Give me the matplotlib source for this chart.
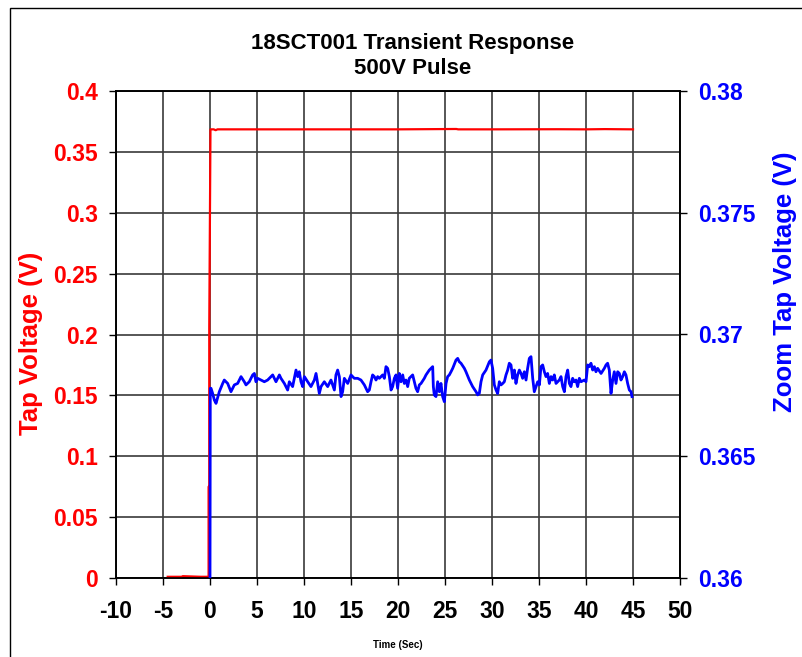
"""
18SCT001 - risposta al transitorio, impulso 500V.
Traccia tensione di tap (rossa, asse sinistro) e zoom (blu, asse destro).
"""

import matplotlib
matplotlib.use("Agg")
import matplotlib.pyplot as plt
from matplotlib.patches import Rectangle
from matplotlib.ticker import FuncFormatter

plt.rcParams["font.family"] = ["Liberation Sans", "DejaVu Sans"]
plt.rcParams["font.weight"] = "bold"
plt.rcParams["axes.unicode_minus"] = False

# tensione tap (V) - scala intera
red_t = [-4.5, -3.0, -2.9, -1.0, -0.15, -0.15, -0.08, -0.08, 0.05, 0.4, 0.6, 0.8,
         10.0, 20.0, 26.2, 26.4, 30.0, 37.0, 40.0, 42.0, 45.0]
red_v = [0.0010, 0.0010, 0.0015, 0.0010, 0.0010, 0.0750, 0.0750, 0.2050, 0.3685, 0.3685,
         0.3678, 0.3685, 0.3685, 0.3685, 0.3688, 0.3685, 0.3685, 0.3686, 0.3685, 0.3687, 0.3685]

# tensione tap (V) - zoom
blue_t = [
    0.00, 0.03, 0.11, 0.28, 0.46, 0.64, 0.99, 1.35, 1.52, 1.88, 2.23, 2.41, 2.59, 2.94,
    3.30, 3.65, 3.83, 4.18, 4.54, 4.72, 4.89, 5.07, 5.43, 5.78, 6.13, 6.49, 6.67, 7.02,
    7.38, 7.55, 7.91, 8.26, 8.44, 8.79, 9.15, 9.33, 9.50, 9.68, 9.86, 10.04, 10.39, 10.74,
    11.10, 11.28, 11.63, 11.81, 12.16, 12.52, 12.87, 13.23, 13.40, 13.58, 13.76, 13.94,
    14.11, 14.29, 14.65, 15.00,
    15.18, 15.35, 15.71, 16.06, 16.42, 16.60, 16.77, 16.95, 17.13, 17.30, 17.48, 17.66,
    17.84, 18.01, 18.19, 18.37, 18.55, 18.72, 18.90, 19.08, 19.26, 19.43, 19.61, 19.79,
    19.96, 20.14, 20.32, 20.50, 20.67, 20.85, 21.03, 21.20, 21.56, 21.74, 21.91, 22.09,
    22.27, 22.45, 22.80, 22.98, 23.33, 23.51, 23.69, 23.76, 23.86, 24.04, 24.22, 24.40,
    24.57, 24.75, 24.93, 25.11, 25.28, 25.46, 25.64, 25.82, 26.17, 26.35, 26.52, 26.70,
    27.06, 27.23, 27.59, 27.77, 27.94, 28.30, 28.48, 28.65, 28.83, 29.01, 29.36, 29.72,
    29.89, 30.07,
    30.25, 30.43, 30.60, 30.78, 30.96, 31.14, 31.31, 31.49, 31.67, 31.84, 32.02, 32.20,
    32.38, 32.55, 32.73, 32.91, 33.09, 33.26, 33.44, 33.62, 33.79, 33.97, 34.15, 34.33,
    34.50, 34.68, 34.86, 35.04, 35.21, 35.39, 35.57, 35.74, 35.92, 36.10, 36.28, 36.45,
    36.63, 36.81, 36.99, 37.16, 37.34, 37.52, 37.70, 37.87, 38.05, 38.23, 38.40, 38.58,
    38.76, 38.94, 39.11, 39.29, 39.47, 39.82, 40.00, 40.18, 40.35, 40.53, 40.71, 40.89,
    41.06, 41.24, 41.60, 41.95, 42.13, 42.30, 42.48, 42.66, 42.84, 43.01, 43.19, 43.37,
    43.55, 43.72, 43.90, 44.08, 44.25, 44.43, 44.61, 44.79, 44.89,
]
blue_v = [
    0.35980, 0.36779, 0.36779, 0.36758, 0.36731, 0.36717, 0.36765, 0.36799, 0.36813,
    0.36799, 0.36765, 0.36779, 0.36793, 0.36799, 0.36827, 0.36806, 0.36793, 0.36806,
    0.36834, 0.36840, 0.36806, 0.36820, 0.36813, 0.36806, 0.36813, 0.36827, 0.36834,
    0.36806, 0.36834, 0.36820, 0.36799, 0.36772, 0.36806, 0.36786, 0.36854, 0.36827,
    0.36847, 0.36806, 0.36786, 0.36827, 0.36806, 0.36786, 0.36813, 0.36840, 0.36758,
    0.36786, 0.36806, 0.36786, 0.36813, 0.36772, 0.36834, 0.36854, 0.36827, 0.36745,
    0.36765, 0.36820, 0.36799, 0.36834,
    0.36827, 0.36820, 0.36820, 0.36813, 0.36793, 0.36779, 0.36765, 0.36772, 0.36806,
    0.36834, 0.36827, 0.36813, 0.36827, 0.36820, 0.36827, 0.36834, 0.36820, 0.36868,
    0.36861, 0.36827, 0.36772, 0.36786, 0.36820, 0.36834, 0.36779, 0.36840, 0.36806,
    0.36834, 0.36799, 0.36813, 0.36786, 0.36820, 0.36834, 0.36806, 0.36779, 0.36765,
    0.36793, 0.36799, 0.36820, 0.36834, 0.36854, 0.36861, 0.36868, 0.36786, 0.36752,
    0.36745, 0.36806, 0.36765, 0.36799, 0.36745, 0.36724, 0.36799, 0.36827, 0.36834,
    0.36847, 0.36861, 0.36895, 0.36902, 0.36888, 0.36882, 0.36861, 0.36847, 0.36813,
    0.36799, 0.36786, 0.36765, 0.36752, 0.36758, 0.36806, 0.36834, 0.36854, 0.36888,
    0.36895, 0.36861,
    0.36793, 0.36772, 0.36758, 0.36806, 0.36793, 0.36799, 0.36806, 0.36834, 0.36854,
    0.36882, 0.36875, 0.36820, 0.36854, 0.36799, 0.36834, 0.36854, 0.36840, 0.36820,
    0.36847, 0.36813, 0.36861, 0.36902, 0.36909, 0.36820, 0.36765, 0.36786, 0.36806,
    0.36793, 0.36868, 0.36875, 0.36847, 0.36827, 0.36840, 0.36799, 0.36827, 0.36813,
    0.36834, 0.36799, 0.36806, 0.36813, 0.36827, 0.36786, 0.36765, 0.36827, 0.36854,
    0.36799, 0.36786, 0.36820, 0.36806, 0.36813, 0.36786, 0.36820, 0.36806, 0.36813,
    0.36806, 0.36875, 0.36868, 0.36882, 0.36854, 0.36868, 0.36847, 0.36861, 0.36840,
    0.36861, 0.36875, 0.36882, 0.36854, 0.36758, 0.36813, 0.36847, 0.36799, 0.36847,
    0.36840, 0.36813, 0.36827, 0.36847, 0.36834, 0.36799, 0.36772, 0.36765, 0.36745,
]

x_ticks = [-10, -5, 0, 5, 10, 15, 20, 25, 30, 35, 40, 45, 50]
left_ticks = [0, 0.05, 0.1, 0.15, 0.2, 0.25, 0.3, 0.35, 0.4]
right_ticks = [0.36, 0.365, 0.37, 0.375, 0.38]

TICK_FS = 16.5

fig = plt.figure(figsize=(8.02, 6.57), dpi=100)
fig.patch.set_facecolor("white")

# cornice del grafico (tagliata a destra e in basso)
fig.patches.append(Rectangle((10 / 802, -0.2), 1.2, 1.2 - 8 / 657,
                             transform=fig.transFigure, fill=False,
                             edgecolor="black", lw=1.0, clip_on=False))

ax = fig.add_axes([116 / 802, 79 / 657, 564 / 802, 487 / 657])
ax2 = ax.twinx()

ax.plot(red_t, red_v, color="red", lw=1.6, zorder=3)
ax2.plot(blue_t, blue_v, color="blue", lw=2.0, zorder=3)

ax.set_xlim(-10, 50)
ax.set_ylim(0, 0.4)
ax2.set_ylim(0.36, 0.38)

ax.set_xticks(x_ticks)
ax.set_yticks(left_ticks)
ax2.set_yticks(right_ticks)
ax.yaxis.set_major_formatter(FuncFormatter(lambda v, p: f"{v:g}"))
ax2.yaxis.set_major_formatter(FuncFormatter(lambda v, p: f"{v:g}"))

ax.grid(True, color="#3a3a3a", lw=1.2)
ax.set_axisbelow(True)

ax.tick_params(axis="x", direction="out", length=5, width=1, pad=11,
               labelsize=TICK_FS, labelcolor="black")
ax.tick_params(axis="y", direction="out", length=5, width=1, pad=8,
               labelsize=TICK_FS, labelcolor="red")
ax2.tick_params(axis="y", direction="out", length=5, width=1, pad=8,
                labelsize=TICK_FS, labelcolor="blue")
for lab in ax.get_xticklabels() + ax.get_yticklabels() + ax2.get_yticklabels():
    lab.set_fontweight("bold")

for a in (ax, ax2):
    for s in a.spines.values():
        s.set_color("black")
        s.set_linewidth(1.2)

ax.set_ylabel("Tap Voltage (V)", color="red", fontsize=18.5, fontweight="bold")
ax.yaxis.set_label_coords(-0.129, 0.482)
ax2.set_ylabel("Zoom Tap Voltage (V)", color="blue", fontsize=18.5, fontweight="bold")
ax2.yaxis.set_label_coords(1.165, 0.608)
ax.set_xlabel("Time (Sec)", fontsize=7, fontweight="bold", labelpad=12)

fig.text(413 / 802, 1 - 56 / 657, "18SCT001 Transient Response\n500V Pulse",
         ha="center", va="center", fontsize=16, fontweight="bold", linespacing=1.25)

fig.savefig("out.png", dpi=100, facecolor="white")
